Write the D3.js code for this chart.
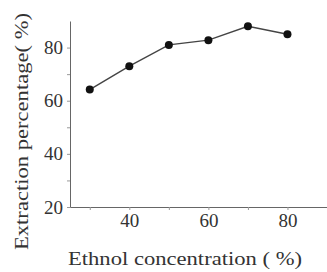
<!DOCTYPE html>
<html>
<head>
<meta charset="utf-8">
<script src="https://cdn.jsdelivr.net/npm/d3@7"></script>
<style>
  body { margin: 0; background: #fff; }
  text { font-family: "Liberation Serif", "Times New Roman", serif; fill: #333; }
</style>
</head>
<body>
<div id="chart"></div>
<script>
// ethanol concentration (%) and extraction percentage (%)
const concentrations = [30, 40, 50, 60, 70, 80];
const extraction = [64.2, 73, 81, 82.8, 88, 85];
const xTickValues = [30, 40, 50, 60, 70, 80];
const xTickLabels = ["", "40", "", "60", "", "80"];
const yTickValues = [20, 30, 40, 50, 60, 70, 80];
const yTickLabels = ["20", "", "40", "", "60", "", "80"];

const width = 327, height = 272;
const margin = {top: 21, right: 0, bottom: 65, left: 70};

const svg = d3.select("#chart").append("svg")
    .attr("width", width)
    .attr("height", height);

const x = d3.scaleLinear()
    .domain([25, 90])
    .range([margin.left, width - margin.right]);

const y = d3.scaleLinear()
    .domain([20, 90])
    .range([height - margin.bottom, margin.top]);

// axes
const xAxis = d3.axisBottom(x)
    .tickValues(xTickValues)
    .tickFormat((d, i) => xTickLabels[i])
    .tickSize(3)
    .tickPadding(4)
    .tickSizeOuter(0);

const yAxis = d3.axisLeft(y)
    .tickValues(yTickValues)
    .tickFormat((d, i) => yTickLabels[i])
    .tickSize(3)
    .tickPadding(4)
    .tickSizeOuter(0);

svg.append("g")
    .attr("transform", "translate(0," + (height - margin.bottom) + ")")
    .call(xAxis);

svg.append("g")
    .attr("transform", "translate(" + margin.left + ",0)")
    .call(yAxis);

svg.selectAll("g")
    .attr("font-family", "'Liberation Serif', serif")
    .attr("font-size", 19);
svg.selectAll(".domain").attr("stroke", "#666").attr("stroke-width", 1);
svg.selectAll(".tick line").attr("stroke", "#999");
svg.selectAll(".tick text")
    .style("font-family", "'Liberation Serif', serif")
    .style("font-size", "19px")
    .attr("fill", "#444");

// line and markers
const pts = concentrations.map((c, i) => ({c: c, v: extraction[i]}));

svg.append("path")
    .datum(pts)
    .attr("fill", "none")
    .attr("stroke", "#444")
    .attr("stroke-width", 1.4)
    .attr("d", d3.line().x(d => x(d.c)).y(d => y(d.v)));

svg.selectAll("circle.pt")
    .data(pts)
    .enter()
    .append("circle")
    .attr("class", "pt")
    .attr("cx", d => x(d.c))
    .attr("cy", d => y(d.v))
    .attr("r", 4)
    .attr("fill", "#111");

// axis titles
svg.append("text")
    .attr("x", 68)
    .attr("y", 265)
    .attr("textLength", 234)
    .attr("lengthAdjust", "spacingAndGlyphs")
    .style("font-size", "19px")
    .attr("fill", "#444")
    .text("Ethnol concentration (  %)");

svg.append("text")
    .attr("transform", "translate(28,250) rotate(-90)")
    .attr("textLength", 237)
    .attr("lengthAdjust", "spacingAndGlyphs")
    .style("font-size", "19px")
    .attr("fill", "#444")
    .text("Extraction percentage(  %)");
</script>
</body>
</html>
